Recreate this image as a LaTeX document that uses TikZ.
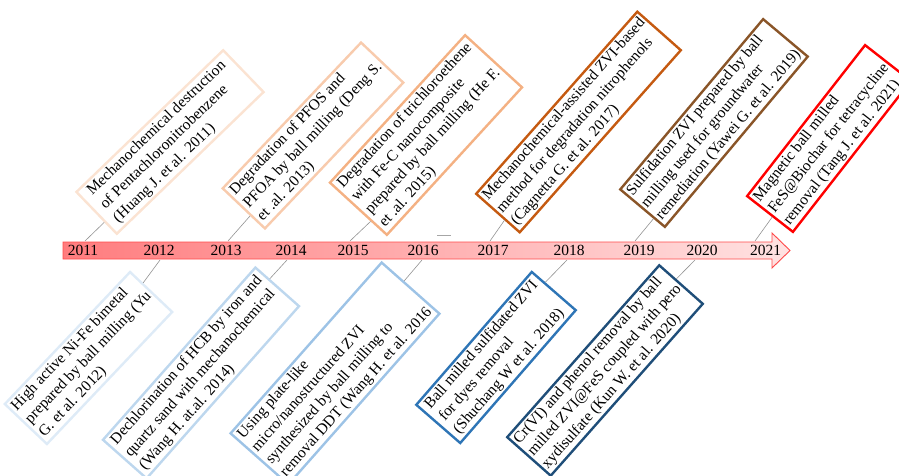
\documentclass[tikz,border=0pt]{standalone}
\usepackage{fontspec}
\setmainfont{Liberation Serif}
\usetikzlibrary{calc}
\definecolor{c2011}{HTML}{FBE3D2}
\definecolor{c2013}{HTML}{F8CBAD}
\definecolor{c2015}{HTML}{F4B183}
\definecolor{c2017}{HTML}{C55A11}
\definecolor{c2019}{HTML}{8A5528}
\definecolor{c2021}{HTML}{FF0000}
\definecolor{c2012}{HTML}{DEEBF7}
\definecolor{c2014}{HTML}{BDD7EE}
\definecolor{c2016}{HTML}{9DC3E6}
\definecolor{c2018}{HTML}{2E75B6}
\definecolor{c2020}{HTML}{1F4E79}
\definecolor{barleft}{HTML}{FF7C7E}
\definecolor{barright}{HTML}{FFE2E2}
\definecolor{barline}{HTML}{FF4A4A}
\begin{document}
\begin{tikzpicture}[x=1pt,y=-1pt,
  evbox/.style={draw=#1, line width=2.4pt, fill=white, align=left,
    inner xsep=3pt, inner ysep=3pt, font=\fontsize{15.5}{19}\selectfont},
  yearlab/.style={font=\fontsize{15.5}{19}\selectfont, inner sep=0pt},
  conn/.style={draw=gray!85, line width=0.6pt}]
\useasboundingbox (0,0) rectangle (899,476);
\clip (0,0) rectangle (899,476);

% ---------- upper boxes ----------
\node[evbox=c2011, rotate=44, minimum width=204pt] (b2011) at (170,142)
  {Mechanochemical destruction\\ of Pentachloronitrobenzene\\ (Huang J. et al. 2011)};
\node[evbox=c2013, rotate=46.5, minimum width=201pt] (b2013) at (313,135.5)
  {Degradation of PFOS and\\ PFOA by ball milling (Deng S.\\ et .al. 2013)};
\node[evbox=c2015, rotate=47.5, minimum width=200pt] (b2015) at (426,135)
  {Degradation of trichloroethene\\ with Fe-C nanocomposite\\ prepared by ball milling (He F.\\ et .al. 2015)};
\node[evbox=c2017, rotate=48.5, minimum width=237pt] (b2017) at (578.5,122)
  {Mechanochemical-assisted ZVI-based\\ method for degradation nitrophenols\\ (Cagnetta G. et al. 2017)};
\node[evbox=c2019, rotate=50, minimum width=215pt] (b2019) at (714,123)
  {Sulfidation ZVI prepared by ball\\ milling used for groundwater\\ remediation (Yawei G. et al. 2019)};
\node[evbox=c2021, rotate=52, minimum width=190pt] (b2021) at (829,138.5)
  {Magnetic ball milled\\ FeS@Biochar for tetracycline\\ removal (Tang J. et al. 2021)};

% ---------- lower boxes ----------
\node[evbox=c2012, rotate=46.5, minimum width=182pt] (b2012) at (88.5,358)
  {High active Ni-Fe bimetal\\ prepared by ball milling (Yu\\ G. et al. 2012)};
\node[evbox=c2014, rotate=48.5, minimum width=230pt] (b2014) at (201,373)
  {Dechlorination of HCB by iron and\\ quartz sand with mechanochemical\\ (Wang H. at.al. 2014)};
\node[evbox=c2016, rotate=48.5, minimum width=228pt] (b2016) at (335,373.5)
  {Using plate-like\\ micro/nanostructured ZVI\\ synthesized by ball milling to\\ removal DDT (Wang H. et al. 2016};
\node[evbox=c2018, rotate=49, minimum width=176pt] (b2018) at (496,357.5)
  {Ball milled sulfidated ZVI\\ for dyes removal\\ (Shuchang W et al. 2018)};
\node[evbox=c2020, rotate=48.5, minimum width=224pt] (b2020) at (605,370.5)
  {Cr(VI) and phenol removal by ball\\ milled ZVI@FeS coupled with pero\\ xydisulfate (Kun W. et al. 2020)};

% ---------- connectors ----------
\coordinate (t2011) at (85,241);
\coordinate (t2013) at (228,241);
\coordinate (t2015) at (350,241);
\coordinate (t2017) at (490,241);
\coordinate (t2019) at (635,241);
\coordinate (t2021) at (755,241);
\coordinate (u2012) at (160,260);
\coordinate (u2014) at (287,260);
\coordinate (u2016) at (422,260);
\coordinate (u2018) at (567,260);
\coordinate (u2020) at (695,260);
\foreach \y/\f in {2011/0.7,2013/0.66,2015/0.72,2017/0.66,2019/0.75,2021/0.56}
  \draw[conn] (t\y) -- ($(b\y.north west)!\f!(b\y.south west)$);
\foreach \y/\f in {2012/0.3,2014/0.32,2016/0.38,2018/0.3,2020/0.38}
  \draw[conn] (u\y) -- ($(b\y.north east)!\f!(b\y.south east)$);
\coordinate (m1) at (437,235.5);
\coordinate (m2) at (451,235.5);
\draw[gray!70, line width=0.6pt] (m1) -- (m2);

% ---------- timeline arrow ----------
\shade[left color=barleft, right color=barright]
  (63,242) -- (772,242) -- (772,233) -- (790,250.5) -- (772,268) -- (772,259) -- (63,259) -- cycle;
\draw[barline, line width=0.9pt, line join=miter]
  (63,242) -- (772,242) -- (772,233) -- (790,250.5) -- (772,268) -- (772,259) -- (63,259) -- cycle;

% ---------- years ----------
\foreach \y/\x in {2011/83,2012/159,2013/226,2014/291,2015/353,2016/423,2017/493,2018/569,2019/639,2020/702,2021/765.5}
  \node[yearlab] (y\y) at (\x,250.5) {\y};
\end{tikzpicture}
\end{document}
